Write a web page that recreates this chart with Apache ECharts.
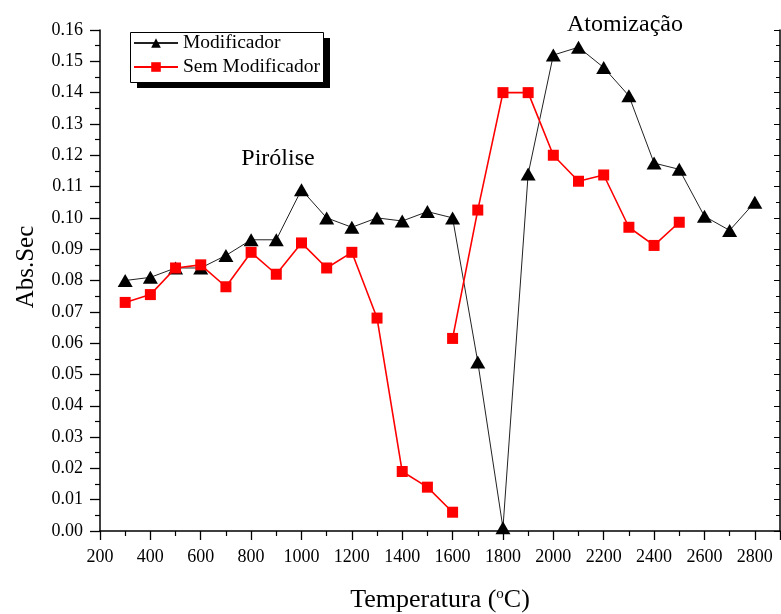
<!DOCTYPE html>
<html>
<head>
<meta charset="utf-8">
<script src="https://cdn.jsdelivr.net/npm/echarts@6/dist/echarts.min.js"></script>
<style>html,body{margin:0;padding:0;background:#fff}#c{width:781px;height:614px}</style>
</head>
<body>
<div id="c"></div>
<script>
var temps = [300,400,500,600,700,800,900,1000,1100,1200,1300,1400,1500,1600,1700,1800,1900,2000,2100,2200,2300,2400,2500,2600,2700,2800];
var modificador = [0.080,0.081,0.084,0.084,0.088,0.093,0.093,0.109,0.100,0.097,0.100,0.099,0.102,0.100,0.054,0.001,0.114,0.152,0.1545,0.148,0.139,0.1175,0.1155,0.1005,0.096,0.105];
var semTempsA = [300,400,500,600,700,800,900,1000,1100,1200,1300,1400,1500,1600];
var semValsA = [0.073,0.0755,0.084,0.085,0.078,0.089,0.082,0.092,0.084,0.089,0.068,0.019,0.014,0.006];
var semTempsB = [1600,1700,1800,1900,2000,2100,2200,2300,2400,2500];
var semValsB = [0.0615,0.1025,0.140,0.140,0.120,0.1117,0.1137,0.097,0.0912,0.0986];
var annotationTexts = ['Pirólise', 'Atomização'];
var axisTitles = {x:'Temperatura (', xSup:'o', xEnd:'C)', y:'Abs.Sec'};

var chart = echarts.init(document.getElementById('c'), null, {renderer:'canvas'});
var FONT = '"Liberation Serif","Times New Roman",serif';

function pairs(xs, ys){ return xs.map(function(x,i){return [x, ys[i]];}); }
var semData = pairs(semTempsA, semValsA).concat([[1600,'-']]).concat(pairs(semTempsB, semValsB));

var yAxisBase = {
  type:'value', min:0, max:0.16, interval:0.01,
  splitLine:{show:false},
  axisLine:{show:true, lineStyle:{color:'#000', width:1.5}}
};

chart.setOption({
  animation:false,
  backgroundColor:'#fff',
  grid:{left:100, right:1, top:30, bottom:83, containLabel:false, outerBoundsMode:'none'},
  legend:{
    orient:'vertical', left:130, top:32,
    padding:[1,2,5,3], itemGap:4,
    itemWidth:44, itemHeight:12,
    backgroundColor:'transparent', borderWidth:0,
    textStyle:{fontFamily:FONT, fontSize:19.5, lineHeight:20, color:'#000'},
    data:['Modificador','Sem Modificador'],
    z:10
  },
  xAxis:{
    type:'value', min:200, max:2900, interval:200,
    name:axisTitles.x + '{s|' + axisTitles.xSup + '}' + axisTitles.xEnd,
    nameLocation:'middle', nameGap:56,
    nameTextStyle:{fontFamily:FONT, fontSize:26, color:'#000',
      rich:{s:{fontFamily:FONT, fontSize:15, color:'#000', verticalAlign:'top', padding:[0,0,12,0]}}},
    axisLine:{show:true, onZero:false, lineStyle:{color:'#000', width:1.5}},
    axisTick:{show:true, inside:false, length:9, lineStyle:{color:'#000', width:1.3}},
    minorTick:{show:true, splitNumber:2, length:5, lineStyle:{color:'#000', width:1.2}},
    axisLabel:{fontFamily:FONT, fontSize:18, color:'#000', margin:17,
      formatter:function(v){ return v > 2800 ? '' : String(v); }},
    splitLine:{show:false}
  },
  yAxis:[
    Object.assign({}, yAxisBase, {
      position:'left',
      axisTick:{show:true, inside:false, length:10, lineStyle:{color:'#000', width:1.3}},
      minorTick:{show:true, splitNumber:2, length:5, lineStyle:{color:'#000', width:1.2}},
      axisLabel:{fontFamily:FONT, fontSize:18, color:'#000', margin:17,
        formatter:function(v){ return v.toFixed(2); }}
    }),
    Object.assign({}, yAxisBase, {
      position:'right',
      axisTick:{show:true, inside:true, length:6, lineStyle:{color:'#000', width:1}},
      minorTick:{show:true, splitNumber:2, length:4, lineStyle:{color:'#000', width:1}},
      axisLabel:{show:false}
    })
  ],
  graphic:[
    {type:'rect', z:5, shape:{x:137, y:38, width:193, height:50}, style:{fill:'#000'}},
    {type:'rect', z:6, shape:{x:130.5, y:32.5, width:193, height:50}, style:{fill:'#fff', stroke:'#000', lineWidth:1}},
    {type:'text', x:26, y:267, rotation:Math.PI/2,
      style:{text:axisTitles.y, font:'25px ' + FONT, fill:'#000', textAlign:'center', textVerticalAlign:'middle'}},
    {type:'text', x:278, y:159,
      style:{text:annotationTexts[0], font:'24px ' + FONT, fill:'#000', textAlign:'center', textVerticalAlign:'middle'}},
    {type:'text', x:625, y:25,
      style:{text:annotationTexts[1], font:'24px ' + FONT, fill:'#000', textAlign:'center', textVerticalAlign:'middle'}}
  ],
  series:[
    {
      name:'Modificador', type:'line', yAxisIndex:0,
      data: pairs(temps, modificador),
      symbol:'triangle', symbolSize:[15,13],
      itemStyle:{color:'#000'},
      lineStyle:{color:'#222', width:1},
      z:2
    },
    {
      name:'Sem Modificador', type:'line', yAxisIndex:0,
      data: semData, connectNulls:false,
      symbol:'rect', symbolSize:11,
      itemStyle:{color:'#f00'},
      lineStyle:{color:'#f00', width:1.6},
      z:3
    }
  ]
});
</script>
</body>
</html>
